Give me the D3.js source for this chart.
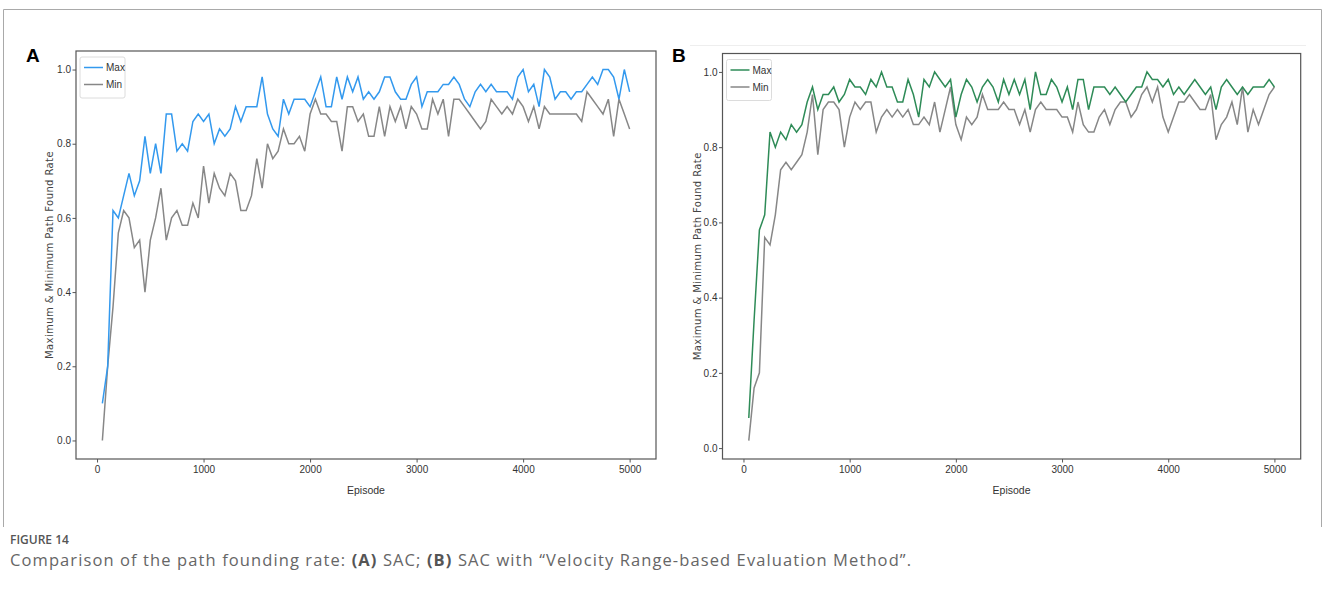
<!DOCTYPE html>
<html>
<head>
<meta charset="utf-8">
<script src="https://cdn.jsdelivr.net/npm/d3@7"></script>
<style>
  body { margin: 0; background: #fff; }
  svg text { font-family: "Liberation Sans Narrow", "Liberation Sans", sans-serif; }
</style>
</head>
<body>
<svg id="fig" width="1326" height="590"></svg>
<script>
// episodes on the x axis (every 50 episodes)
var episodes = d3.range(50, 5001, 50);

var xTicks = [0, 1000, 2000, 3000, 4000, 5000];
var yTicks = [0.0, 0.2, 0.4, 0.6, 0.8, 1.0];

// panel A - SAC
var maxA = [0.10,0.20,0.62,0.60,0.66,0.72,0.66,0.70,0.82,0.72,
            0.80,0.72,0.88,0.88,0.78,0.80,0.78,0.86,0.88,0.86,
            0.88,0.80,0.84,0.82,0.84,0.90,0.86,0.90,0.90,0.90,
            0.98,0.88,0.84,0.82,0.92,0.88,0.92,0.92,0.92,0.90,
            0.94,0.98,0.90,0.90,0.98,0.92,0.98,0.94,0.98,0.92,
            0.94,0.92,0.94,0.98,0.98,0.94,0.92,0.92,0.96,0.98,
            0.90,0.94,0.94,0.94,0.96,0.96,0.98,0.96,0.92,0.90,
            0.94,0.96,0.94,0.96,0.94,0.94,0.94,0.92,0.98,1.00,
            0.94,0.96,0.90,1.00,0.98,0.92,0.94,0.94,0.92,0.94,
            0.94,0.96,0.98,0.96,1.00,1.00,0.98,0.92,1.00,0.94];
var minA = [0.00,0.20,0.36,0.56,0.62,0.60,0.52,0.54,0.40,0.54,
            0.60,0.68,0.54,0.60,0.62,0.58,0.58,0.64,0.60,0.74,
            0.64,0.72,0.68,0.66,0.72,0.70,0.62,0.62,0.66,0.76,
            0.68,0.80,0.76,0.78,0.84,0.80,0.80,0.82,0.78,0.88,
            0.92,0.88,0.88,0.86,0.86,0.78,0.90,0.90,0.86,0.88,
            0.82,0.82,0.90,0.82,0.90,0.86,0.90,0.84,0.90,0.88,
            0.84,0.84,0.92,0.88,0.92,0.82,0.92,0.92,0.90,0.88,
            0.86,0.84,0.86,0.92,0.90,0.88,0.90,0.88,0.92,0.90,
            0.86,0.90,0.84,0.90,0.88,0.88,0.88,0.88,0.88,0.88,
            0.86,0.94,0.92,0.90,0.88,0.92,0.82,0.92,0.88,0.84];

// panel B - SAC with velocity range-based evaluation
var maxB = [0.08,0.34,0.58,0.62,0.84,0.80,0.84,0.82,0.86,0.84,
            0.86,0.92,0.96,0.90,0.94,0.94,0.96,0.92,0.94,0.98,
            0.96,0.96,0.94,0.98,0.96,1.00,0.96,0.96,0.92,0.92,
            0.98,0.94,0.88,0.98,0.96,1.00,0.98,0.96,0.98,0.88,
            0.94,0.98,0.96,0.92,0.96,0.98,0.96,0.92,0.98,0.94,
            0.98,0.94,0.98,0.90,1.00,0.94,0.94,0.98,0.96,0.92,
            0.96,0.90,0.98,0.98,0.90,0.96,0.96,0.96,0.94,0.96,
            0.94,0.92,0.94,0.96,0.96,1.00,0.98,0.98,0.96,0.98,
            0.94,0.96,0.94,0.96,0.98,0.96,0.94,0.96,0.90,0.96,
            0.98,0.96,0.94,0.96,0.94,0.96,0.96,0.96,0.98,0.96];
var minB = [0.02,0.16,0.20,0.56,0.54,0.62,0.74,0.76,0.74,0.76,
            0.78,0.84,0.94,0.78,0.90,0.92,0.92,0.90,0.80,0.88,
            0.92,0.90,0.92,0.92,0.84,0.88,0.90,0.88,0.90,0.88,
            0.90,0.86,0.86,0.88,0.86,0.92,0.84,0.90,0.96,0.86,
            0.82,0.88,0.86,0.88,0.94,0.90,0.90,0.90,0.92,0.90,
            0.90,0.86,0.90,0.84,0.90,0.92,0.90,0.90,0.90,0.88,
            0.88,0.84,0.92,0.86,0.84,0.84,0.88,0.90,0.86,0.90,
            0.92,0.92,0.88,0.90,0.94,0.96,0.92,0.96,0.88,0.84,
            0.88,0.92,0.92,0.94,0.92,0.90,0.90,0.94,0.82,0.86,
            0.88,0.92,0.86,0.96,0.84,0.90,0.86,0.90,0.94,0.96];

var svg = d3.select("#fig");

// outer frame of the figure
svg.append("path")
    .attr("d", "M3.5,527 V9.5 H1321.5 V527")
    .attr("fill", "none")
    .attr("stroke", "#a9a9a9")
    .attr("stroke-width", 1);

// faint border of the second image
svg.append("line")
    .attr("x1", 690).attr("x2", 1306).attr("y1", 45.5).attr("y2", 45.5)
    .attr("stroke", "#eeeeee");

var panels = [
  {label: "A", lx: 26, box: {l: 76, r: 656, t: 51, b: 459}, yDom: [-0.05, 1.05],
   maxColor: "#3399ee", max: maxA, min: minA, ylabX: 49},
  {label: "B", lx: 672, box: {l: 722.5, r: 1300.7, t: 53.5, b: 459}, yDom: [-0.029, 1.049],
   maxColor: "#2e8b57", max: maxB, min: minB, ylabX: 697}
];

panels.forEach(drawPanel);

function drawPanel(p){
  var b = p.box;
  var x = d3.scaleLinear().domain([-197.5, 5247.5]).range([b.l, b.r]);
  var y = d3.scaleLinear().domain(p.yDom).range([b.b, b.t]);

  var g = svg.append("g");

  var xAxis = g.append("g")
      .attr("transform", "translate(0," + b.b + ")")
      .call(d3.axisBottom(x).tickValues(xTicks).tickSize(3.5).tickPadding(3).tickFormat(d3.format("d")));
  var yAxis = g.append("g")
      .attr("transform", "translate(" + b.l + ",0)")
      .call(d3.axisLeft(y).tickValues(yTicks).tickSize(3.5).tickPadding(1.5).tickFormat(d3.format(".1f")));

  [xAxis, yAxis].forEach(function(a){
    a.select(".domain").remove();
    a.selectAll(".tick line").attr("stroke", "#555");
    a.selectAll(".tick text").attr("fill", "#333").style("font-size", "10px");
  });

  // spines
  g.append("rect")
      .attr("x", b.l).attr("y", b.t)
      .attr("width", b.r - b.l).attr("height", b.b - b.t)
      .attr("fill", "none")
      .attr("stroke", "#555")
      .attr("stroke-width", 1.2);

  var line = d3.line()
      .x(function(d, i){ return x(episodes[i]); })
      .y(function(d){ return y(d); });

  g.append("path").datum(p.min)
      .attr("d", line)
      .attr("fill", "none")
      .attr("stroke", "#878787")
      .attr("stroke-width", 1.5);

  g.append("path").datum(p.max)
      .attr("d", line)
      .attr("fill", "none")
      .attr("stroke", p.maxColor)
      .attr("stroke-width", 1.5);

  // legend
  var lg = g.append("g").attr("transform", "translate(" + (b.l + 4) + "," + (b.t + 6) + ")");
  lg.append("rect")
      .attr("width", 45).attr("height", 41).attr("rx", 2)
      .attr("fill", "#fff").attr("stroke", "#dcdcdc");
  var items = [{name: "Max", color: p.maxColor}, {name: "Min", color: "#878787"}];
  items.forEach(function(it, i){
    var yy = 10.5 + i * 17;
    lg.append("line")
        .attr("x1", 4).attr("x2", 23).attr("y1", yy).attr("y2", yy)
        .attr("stroke", it.color).attr("stroke-width", 1.5);
    lg.append("text")
        .attr("x", 26).attr("y", yy + 3.5)
        .attr("fill", "#333")
        .style("font-size", "10px")
        .text(it.name);
  });

  // axis titles
  g.append("text")
      .attr("x", (b.l + b.r) / 2).attr("y", 494)
      .attr("text-anchor", "middle")
      .attr("fill", "#333")
      .style("font-size", "10.5px")
      .text("Episode");

  g.append("text")
      .attr("transform", "translate(" + p.ylabX + "," + ((b.t + b.b) / 2) + ") rotate(-90)")
      .attr("text-anchor", "middle")
      .attr("dy", "0.35em")
      .attr("fill", "#444")
      .style("font-family", "'DejaVu Sans', sans-serif")
      .style("font-size", "10px")
      .style("letter-spacing", "0.4px")
      .text("Maximum & Minimum Path Found Rate");

  // panel letter
  svg.append("text")
      .attr("x", p.lx).attr("y", 62)
      .style("font-family", "'Liberation Sans', Arial, sans-serif")
      .style("font-weight", "bold")
      .style("font-size", "19px")
      .attr("fill", "#000")
      .text(p.label);
}

// caption
svg.append("text")
    .attr("x", 10).attr("y", 544)
    .attr("fill", "#555")
    .style("font-family", "'Open Sans', sans-serif")
    .style("font-size", "12px")
    .style("font-weight", "600")
    .text("FIGURE 14");

var cap = svg.append("text")
    .attr("x", 10).attr("y", 566)
    .attr("fill", "#666")
    .style("font-family", "'Open Sans', sans-serif")
    .style("font-size", "16.5px")
    .style("letter-spacing", "1.1px");
cap.append("tspan").text("Comparison of the path founding rate: ");
cap.append("tspan").style("font-weight", "bold").attr("fill", "#555").text("(A)");
cap.append("tspan").text(" SAC; ");
cap.append("tspan").style("font-weight", "bold").attr("fill", "#555").text("(B)");
cap.append("tspan").text(" SAC with \u201CVelocity Range-based Evaluation Method\u201D.");
</script>
</body>
</html>
